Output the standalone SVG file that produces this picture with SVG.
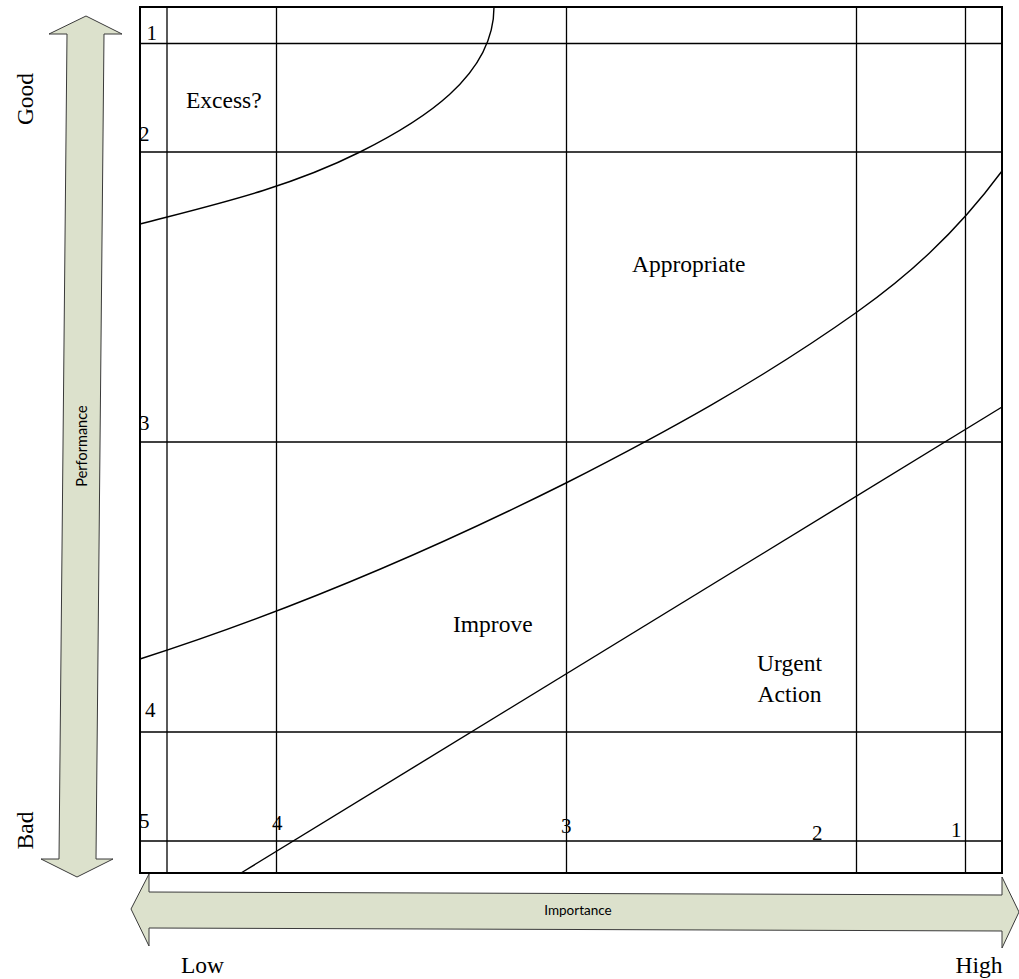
<svg xmlns="http://www.w3.org/2000/svg" width="1019" height="979" viewBox="0 0 1019 979">
<style>
.grid{stroke:#000;stroke-width:1.3;fill:none}
.frame{stroke:#000;stroke-width:2;fill:none}
.curve{stroke:#000;stroke-width:1.4;fill:none}
.arrow{fill:#DCE1CC;stroke:#3a3a3a;stroke-width:1}
.lbl{font-family:"Liberation Serif","Times New Roman",serif;font-size:23.5px;fill:#000}
.num{font-family:"Liberation Serif","Times New Roman",serif;font-size:21px;fill:#000}
.axis{font-family:Lato,"Open Sans",sans-serif;font-size:13.5px;fill:#000}
</style>
<rect width="1019" height="979" fill="#fff"/>
<g id="perf-arrow">
<polygon class="arrow" points="86,16 122,34 104,34 96,859 113,859 77,877 41,859 59,859 67,34 49,34"/>
<text class="axis" style="font-size:14.5px" text-anchor="middle" transform="translate(86.5,446) rotate(-90)">Performance</text>
</g>
<g id="imp-arrow">
<polygon class="arrow" points="131,909 149,874 149,892 1002,895 1002,877 1019,912 1002,948 1002,931 149,928 149,946"/>
<text class="axis" text-anchor="middle" x="578" y="915">Importance</text>
</g>
<g id="grid">
<line class="grid" x1="167" y1="7" x2="167" y2="873"/>
<line class="grid" x1="276.5" y1="7" x2="276.5" y2="873"/>
<line class="grid" x1="566.5" y1="7" x2="566.5" y2="873"/>
<line class="grid" x1="856.5" y1="7" x2="856.5" y2="873"/>
<line class="grid" x1="965.5" y1="7" x2="965.5" y2="873"/>
<line class="grid" x1="140" y1="43.5" x2="1002" y2="43.5"/>
<line class="grid" x1="140" y1="152" x2="1002" y2="152"/>
<line class="grid" x1="140" y1="442" x2="1002" y2="442"/>
<line class="grid" x1="140" y1="732" x2="1002" y2="732"/>
<line class="grid" x1="140" y1="841" x2="1002" y2="841"/>
<rect class="frame" x="140" y="7" width="862" height="866"/>
</g>
<g id="connectors">
<path class="curve" d="M140,224 C213,205 287,188.5 360,152 C420,122 494,77 494,7"/>
<path class="curve" d="M140,659 C282,613.6 424,554 566,483 C663,433.5 760,380.9 857,312 C905,277.9 954,235.8 1002,171"/>
<line class="curve" x1="241" y1="873" x2="1002" y2="407"/>
</g>
<g id="labels">
<text class="lbl" x="186" y="108">Excess?</text>
<text class="lbl" x="632" y="272">Appropriate</text>
<text class="lbl" x="453" y="632">Improve</text>
<text class="lbl" x="789.5" y="671" text-anchor="middle">Urgent</text>
<text class="lbl" x="789.5" y="702" text-anchor="middle">Action</text>
<text class="lbl" text-anchor="middle" transform="translate(33,99) rotate(-90)">Good</text>
<text class="lbl" text-anchor="middle" transform="translate(33,830.5) rotate(-90)">Bad</text>
<text class="lbl" x="202.5" y="973" text-anchor="middle">Low</text>
<text class="lbl" x="979" y="973" text-anchor="middle">High</text>
</g>
<g id="numbers">
<text class="num" x="146.5" y="40">1</text>
<text class="num" x="139" y="141">2</text>
<text class="num" x="139" y="430">3</text>
<text class="num" x="145" y="717">4</text>
<text class="num" x="139" y="828">5</text>
<text class="num" x="272" y="830">4</text>
<text class="num" x="561" y="833">3</text>
<text class="num" x="812" y="840">2</text>
<text class="num" x="951" y="837">1</text>
</g>
</svg>
